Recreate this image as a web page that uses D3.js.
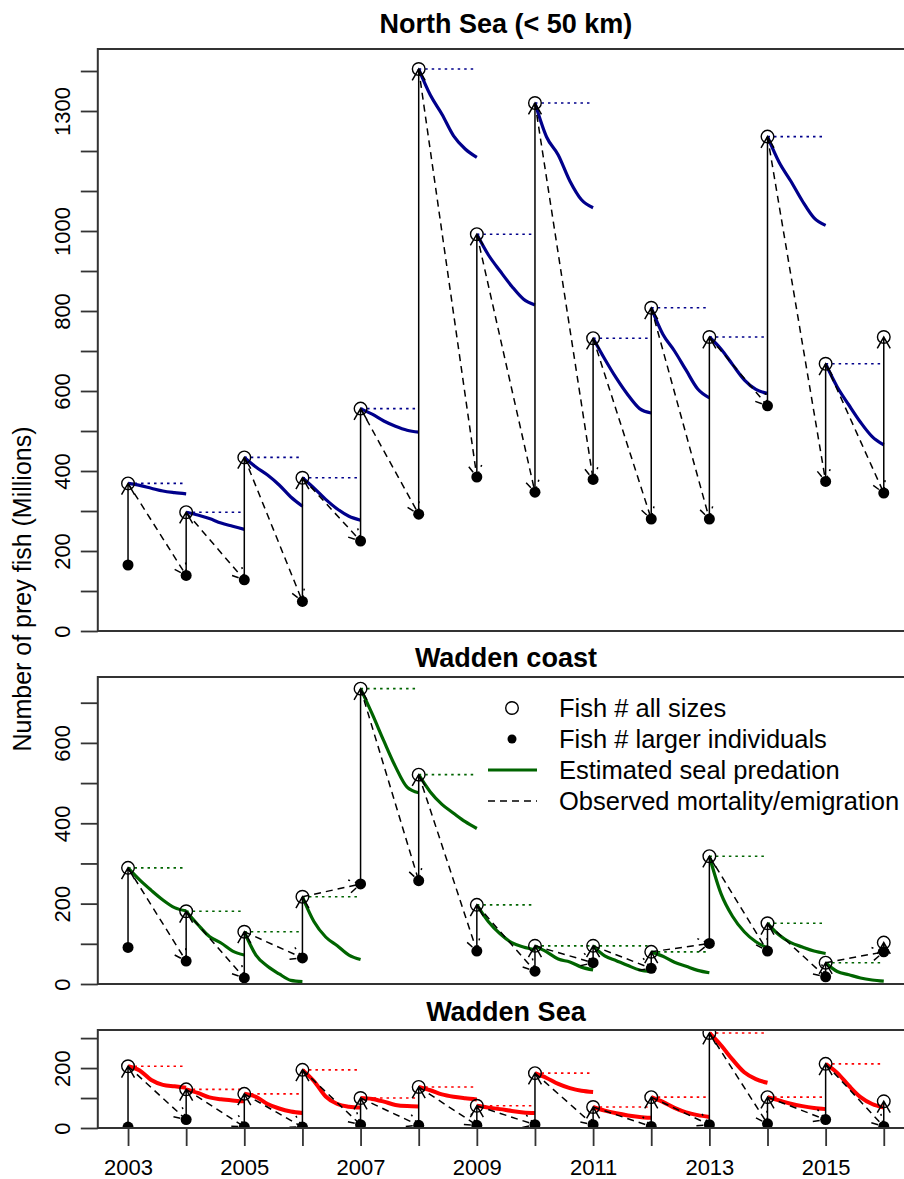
<!DOCTYPE html>
<html>
<head>
<meta charset="utf-8">
<script src="https://cdn.jsdelivr.net/npm/d3@7"></script>
<style>
  html, body { margin: 0; padding: 0; background: #fff; }
  svg { display: block; font-family: "Liberation Sans", Arial, Helvetica, sans-serif; }
</style>
</head>
<body>
<svg id="chart" width="904" height="1179"></svg>
<script>
// ---------------- DATA ----------------
const years = [2003, 2004, 2005, 2006, 2007, 2008, 2009, 2010, 2011, 2012, 2013, 2014, 2015, 2016];
const yearLabels = [2003, 2005, 2007, 2009, 2011, 2013, 2015];
// time offsets (fraction of year) of the predation-curve samples
const predT = [0, 0.2, 0.4, 0.6, 0.8, 1.0];

// North Sea (< 50 km)
const northAll   = [369, 297, 434, 383, 556, 1405, 992, 1320, 732, 808, 735, 1236, 668, 735];
const northLarge = [165, 139, 128, 74, 225, 292, 385, 347, 379, 280, 280, 563, 374, 345];
const northPred = [
  [369, 364, 357, 350, 346, 343],
  [297, 290, 281, 270, 262, 254],
  [434, 410, 390, 365, 335, 312],
  [383, 357, 329, 305, 287, 277],
  [556, 542, 525, 512, 502, 497],
  [1405, 1340, 1292, 1238, 1205, 1184],
  [992, 940, 900, 862, 830, 815],
  [1320, 1235, 1190, 1125, 1078, 1058],
  [732, 680, 632, 590, 556, 545],
  [808, 742, 700, 652, 605, 583],
  [735, 705, 666, 628, 604, 594],
  [1236, 1172, 1125, 1075, 1033, 1014],
  [668, 610, 565, 522, 486, 465]
];
const northTicks  = [0, 100, 200, 300, 400, 500, 600, 700, 800, 900, 1000, 1100, 1200, 1300, 1400];
const northLabels = [0, 200, 400, 600, 800, 1000, 1300];

// Wadden coast
const coastAll   = [289, 181, 130, 217, 735, 521, 197, 95, 95, 80, 318, 151, 53, 103];
const coastLarge = [91, 57, 15, 65, 249, 257, 82, 32, 53, 39, 101, 82, 18, 80];
const coastPred = [
  [289, 259, 233, 209, 190, 182],
  [181, 148, 118, 102, 82, 72],
  [130, 72, 44, 25, 9, 6],
  [217, 155, 117, 95, 72, 61],
  [735, 672, 605, 541, 490, 476],
  [521, 478, 447, 425, 404, 387],
  [197, 155, 125, 103, 92, 85],
  [95, 80, 62, 55, 42, 35],
  [95, 70, 58, 46, 35, 31],
  [80, 69, 54, 44, 34, 28],
  [318, 225, 168, 130, 105, 90],
  [151, 122, 103, 92, 82, 76],
  [53, 31, 23, 15, 10, 7]
];
const coastTicks  = [0, 100, 200, 300, 400, 500, 600, 700];
const coastLabels = [0, 200, 400, 600];

// Wadden Sea
const seaAll   = [206, 129, 114, 194, 100, 137, 74, 183, 70, 103, 317, 103, 214, 89];
const seaLarge = [3, 28, 4, 3, 11, 9, 9, 11, 11, 5, 11, 14, 28, 5];
const seaPred = [
  [206, 192, 160, 144, 139, 134],
  [129, 117, 102, 96, 92, 89],
  [114, 104, 80, 65, 55, 50],
  [194, 156, 105, 80, 71, 68],
  [100, 97, 88, 77, 73, 72],
  [137, 126, 112, 104, 99, 95],
  [74, 68, 63, 57, 52, 50],
  [183, 167, 147, 133, 124, 120],
  [70, 58, 49, 42, 37, 34],
  [103, 87, 67, 52, 43, 37],
  [317, 276, 228, 186, 163, 151],
  [103, 92, 81, 73, 67, 63],
  [214, 184, 141, 103, 80, 68]
];
const seaTicks  = [0, 100, 200, 300];
const seaLabels = [0, 200];

const legendLabels = ["Fish # all sizes", "Fish # larger individuals", "Estimated seal predation", "Observed mortality/emigration"];

// ---------------- LAYOUT ----------------
const svg = d3.select("#chart");
const left = 97.8, right = 914;
const x = d3.scaleLinear().domain([2002.48, 2016.52]).range([left, right]);

const panels = [
  { id: "ns", title: "North Sea (< 50 km)", titleY: 33, all: northAll, large: northLarge, pred: northPred,
    color: "#00008B", lw: 3.2, top: 49, bottom: 631, ymax: 1455, ticks: northTicks, labels: northLabels },
  { id: "wc", title: "Wadden coast", titleY: 667, all: coastAll, large: coastLarge, pred: coastPred,
    color: "#006400", lw: 3.2, top: 677, bottom: 984, ymax: 764, ticks: coastTicks, labels: coastLabels },
  { id: "ws", title: "Wadden Sea", titleY: 1021, all: seaAll, large: seaLarge, pred: seaPred,
    color: "#FF0000", lw: 4, top: 1030, bottom: 1128, ymax: 327, ticks: seaTicks, labels: seaLabels }
];

const AH = 13, AANG = Math.PI / 6;
function arrow(g, x1, y1, x2, y2, dash) {
  const a = Math.atan2(y2 - y1, x2 - x1);
  const path = d3.path();
  path.moveTo(x1, y1); path.lineTo(x2, y2);
  path.moveTo(x2 - AH * Math.cos(a - AANG), y2 - AH * Math.sin(a - AANG));
  path.lineTo(x2, y2);
  path.lineTo(x2 - AH * Math.cos(a + AANG), y2 - AH * Math.sin(a + AANG));
  g.append("path").attr("d", path.toString())
    .attr("fill", "none").attr("stroke", "#000").attr("stroke-width", 1.5)
    .attr("stroke-dasharray", dash ? "7,5" : null);
}

panels.forEach(p => {
  const y = d3.scaleLinear().domain([0, p.ymax]).range([p.bottom, p.top]);

  svg.append("clipPath").attr("id", "clip-" + p.id)
    .append("rect").attr("x", left).attr("y", p.top).attr("width", right - left).attr("height", p.bottom - p.top);

  const g = svg.append("g").attr("clip-path", `url(#clip-${p.id})`);

  // dotted horizontal reference lines
  p.all.slice(0, -1).forEach((v, i) => {
    g.append("line")
      .attr("x1", x(years[i])).attr("x2", x(years[i + 1]))
      .attr("y1", y(v)).attr("y2", y(v))
      .attr("stroke", p.color).attr("stroke-width", 1.6).attr("stroke-dasharray", "2.5,4");
  });

  // predation curves
  const line = d3.line().x(d => x(d[0])).y(d => y(d[1])).curve(d3.curveMonotoneX);
  p.pred.forEach((vals, i) => {
    g.append("path")
      .datum(vals.map((v, k) => [years[i] + predT[k], v]))
      .attr("d", line).attr("fill", "none")
      .attr("stroke", p.color).attr("stroke-width", p.lw).attr("stroke-linejoin", "round");
  });

  // solid arrows: larger individuals -> all sizes (same year)
  years.forEach((yr, i) => arrow(g, x(yr), y(p.large[i]), x(yr), y(p.all[i]), false));
  // dashed arrows: all sizes (year t) -> larger individuals (year t+1)
  years.slice(0, -1).forEach((yr, i) => arrow(g, x(yr), y(p.all[i]), x(years[i + 1]), y(p.large[i + 1]), true));

  // points
  g.selectAll("circle.large").data(years).join("circle").attr("class", "large")
    .attr("cx", d => x(d)).attr("cy", (d, i) => y(p.large[i])).attr("r", 5.5).attr("fill", "#000");
  g.selectAll("circle.all").data(years).join("circle").attr("class", "all")
    .attr("cx", d => x(d)).attr("cy", (d, i) => y(p.all[i])).attr("r", 6.3)
    .attr("fill", "none").attr("stroke", "#000").attr("stroke-width", 1.4);

  // box
  svg.append("rect").attr("x", left).attr("y", p.top).attr("width", right - left).attr("height", p.bottom - p.top)
    .attr("fill", "none").attr("stroke", "#333").attr("stroke-width", 2);

  // y axis
  const ax = svg.append("g").attr("transform", `translate(${left},0)`)
    .call(d3.axisLeft(y).tickValues(p.ticks).tickSize(17).tickSizeOuter(0)
      .tickFormat(d => p.labels.includes(d) ? String(d) : ""));
  ax.select(".domain").remove();
  ax.selectAll(".tick line").attr("stroke", "#333").attr("stroke-width", 1.8);
  ax.selectAll(".tick text")
    .attr("x", null).attr("dy", null).attr("text-anchor", "middle")
    .attr("transform", "translate(-28,0) rotate(-90)")
    .attr("font-size", 22).attr("fill", "#000");

  // title
  svg.append("text").attr("x", (left + right) / 2).attr("y", p.titleY)
    .attr("text-anchor", "middle").attr("font-weight", "bold").attr("font-size", 27)
    .text(p.title);

  if (p.id === "ws") {
    const xa = svg.append("g").attr("transform", `translate(0,${p.bottom})`)
      .call(d3.axisBottom(x).tickValues(years).tickSize(18).tickSizeOuter(0)
        .tickFormat(d => yearLabels.includes(d) ? String(d) : ""));
    xa.select(".domain").remove();
    xa.selectAll(".tick line").attr("stroke", "#333").attr("stroke-width", 1.8);
    xa.selectAll(".tick text").attr("y", 47).attr("dy", null).attr("font-size", 22).attr("fill", "#000");
  }

  if (p.id === "wc") {
    const lg = svg.append("g");
    const rowY = [708, 739, 770, 801];
    lg.append("circle").attr("cx", 512).attr("cy", rowY[0]).attr("r", 6.3)
      .attr("fill", "none").attr("stroke", "#000").attr("stroke-width", 1.4);
    lg.append("circle").attr("cx", 512).attr("cy", rowY[1]).attr("r", 4.5).attr("fill", "#000");
    lg.append("line").attr("x1", 488).attr("x2", 537).attr("y1", rowY[2]).attr("y2", rowY[2])
      .attr("stroke", p.color).attr("stroke-width", p.lw);
    lg.append("line").attr("x1", 488).attr("x2", 537).attr("y1", rowY[3]).attr("y2", rowY[3])
      .attr("stroke", "#000").attr("stroke-width", 1.5).attr("stroke-dasharray", "7,5");
    legendLabels.forEach((t, i) => {
      lg.append("text").attr("x", 559).attr("y", rowY[i] + 9).attr("font-size", 25.5).text(t);
    });
  }
});

// y axis title
svg.append("text")
  .attr("transform", "translate(31,589) rotate(-90)")
  .attr("text-anchor", "middle").attr("font-size", 25)
  .text("Number of prey fish (Millions)");
</script>
</body>
</html>
